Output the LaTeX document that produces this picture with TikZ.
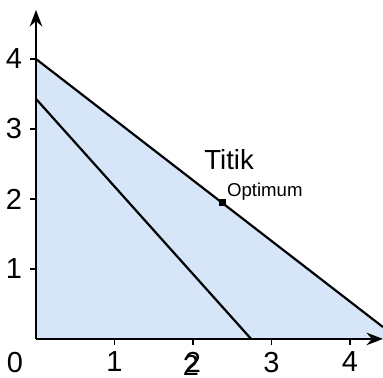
\documentclass[tikz,border=0pt]{standalone}
\usepackage{fontspec}
\setmainfont{Liberation Sans}
\usetikzlibrary{arrows.meta}
\definecolor{feasible}{RGB}{214,229,247}
\begin{document}
\begin{tikzpicture}[x=2cm,y=1.783cm,line width=1.5pt,>=Stealth]
\tikzset{axis/.style={line width=1.3pt,-{Stealth[length=4.2mm,width=3.2mm]}},
  constraint/.style={line width=1.6pt},
  ticklabel/.style={font=\fontsize{21}{21}\selectfont,inner sep=0pt}}
\useasboundingbox (-0.4586,-0.557) rectangle (4.4204,4.843);
% ---- corner points ----
\coordinate (O) at (0,0);
\coordinate (A) at (0,4);
\coordinate (B) at (4.42,0.17);
\coordinate (C) at (0,3.43);
\coordinate (D) at (2.74,0);
\coordinate (xend) at (4.42,0);
\coordinate (yend) at (0,4.7);
% ---- feasible region ----
\fill[feasible] (O) -- (A) -- (B) -- (xend) -- cycle;
% ---- axes and ticks ----
\draw[axis] (O) -- (xend);
\draw[axis] (O) -- (yend);
\foreach \k in {1,...,4}{
  \draw[line width=1.2pt] (\k,0) -- (\k,-0.09);
  \draw[line width=1.2pt] (0,\k) -- (-0.075,\k);
  \node[ticklabel] (x\k) at (\k,-0.33) {\k};
  \node[ticklabel] (y\k) at (-0.28,\k) {\k};
}
\node[ticklabel] (x0) at (-0.27,-0.33) {0};
\node[ticklabel] (x2b) at (1.975,-0.385) {2};
% ---- constraint lines ----
\draw[constraint] (A) -- (B);
\draw[constraint] (C) -- (D);
% ---- optimum ----
\node[fill=black,minimum size=5pt,inner sep=0pt] (opt) at (2.38,1.95) {};
\node[font=\fontsize{20}{20}\selectfont] (titik) at (2.46,2.56) {Titik};
\node[font=\fontsize{13.5}{13.5}\selectfont,anchor=west,inner sep=0pt] (optlabel) at (2.42,2.1) {Optimum};
\end{tikzpicture}
\end{document}
